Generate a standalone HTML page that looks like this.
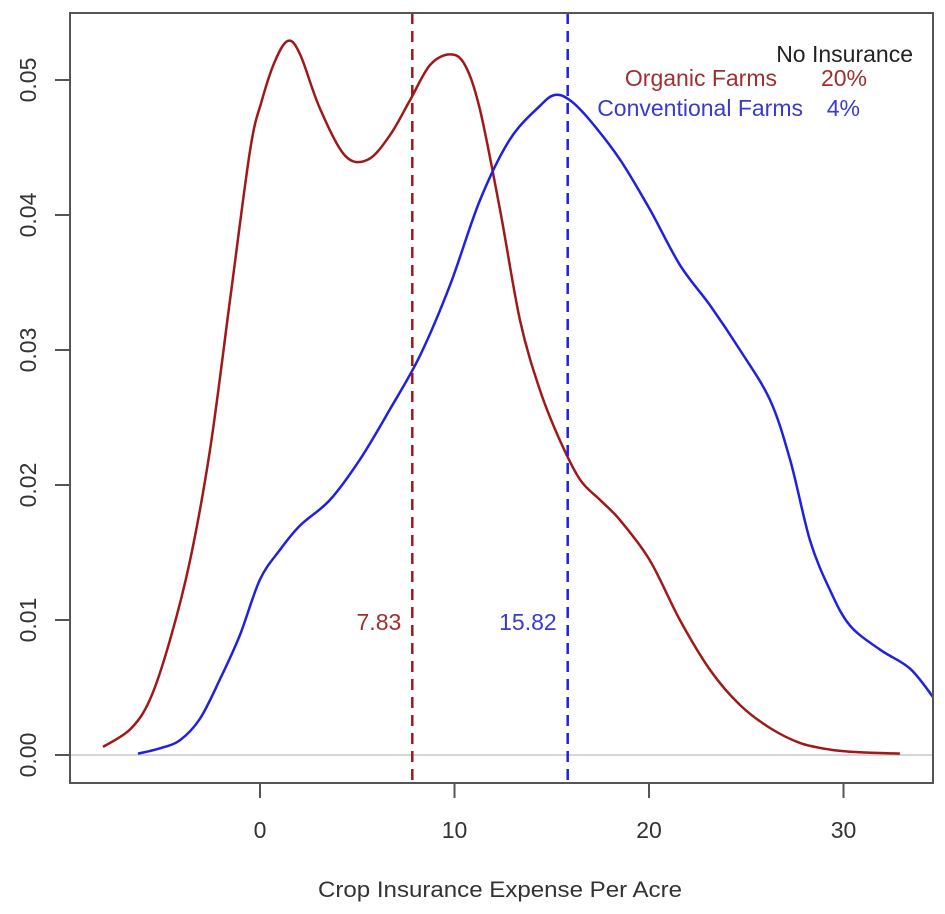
<!DOCTYPE html>
<html><head><meta charset="utf-8"><style>
html,body{margin:0;padding:0;background:#fff;}
svg{display:block;font-family:"Liberation Sans",Arial,sans-serif;}
</style></head><body>
<svg id="chart" width="945" height="914" viewBox="0 0 945 914" xmlns="http://www.w3.org/2000/svg">
<rect x="0" y="0" width="945" height="914" fill="#fff"/>
<g id="plot"></g>
</svg>
<script>
const organicX=[-8.07,-6.68,-5.66,-4.63,-3.60,-2.57,-1.54,-0.51,0.10,0.77,1.44,2.06,3.08,4.37,5.55,6.68,7.71,8.74,9.77,10.54,11.31,12.34,13.37,14.40,15.42,16.45,17.48,18.51,20.05,21.59,23.14,24.68,26.22,27.76,29.31,30.85,32.9];
const organicY=[0.0006,0.0019,0.0041,0.0085,0.0144,0.0226,0.0337,0.0448,0.0485,0.0514,0.0529,0.0519,0.0479,0.0444,0.0441,0.0459,0.0485,0.0511,0.0519,0.0511,0.0478,0.0404,0.0322,0.0270,0.0233,0.0204,0.0189,0.0174,0.0144,0.0100,0.0063,0.0037,0.0020,0.0009,0.0004,0.0002,0.0001];
const convX=[-6.27,-5.14,-4.11,-3.08,-2.06,-1.03,0,1.03,2.06,3.60,5.14,6.68,8.23,9.77,11.31,12.85,14.40,15.17,15.94,16.97,18.51,20.05,21.59,23.14,24.68,26.22,27.25,28.28,29.31,30.33,31.88,33.42,34.65];
const convY=[0.0001,0.0005,0.0011,0.0027,0.0056,0.0089,0.0130,0.0152,0.0170,0.0189,0.0219,0.0256,0.0296,0.0348,0.0411,0.0456,0.0481,0.0489,0.0485,0.0470,0.0441,0.0404,0.0363,0.0333,0.0300,0.0263,0.0219,0.0159,0.0122,0.0096,0.0078,0.0064,0.0042];
const means=[7.83,15.82];
const meanLabels=["7.83","15.82"];
const xTicks=[0,10,20,30];
const yTicks=[0,0.01,0.02,0.03,0.04,0.05];
const yTickLabels=["0.00","0.01","0.02","0.03","0.04","0.05"];

const L=70,R=933,T=13,B=783;
function sx(v){return 260+v*19.45;}
function sy(v){return 755-v*13500;}
const NS="http://www.w3.org/2000/svg";
const g=document.getElementById('plot');
function mk(tag,attrs,name,text){const e=document.createElementNS(NS,tag);for(const k in attrs)e.setAttribute(k,attrs[k]);


if(text!==undefined)e.textContent=text;g.appendChild(e);return e;}

mk('line',{x1:L,x2:R,y1:sy(0),y2:sy(0),stroke:'#c8c8c8','stroke-width':1.5},'zero-line');
function pathOf(xs,ys){
  const p=xs.map((x,i)=>[sx(x),sy(ys[i])]);
  let d='M'+p[0][0].toFixed(1)+','+p[0][1].toFixed(1);
  for(let i=0;i<p.length-1;i++){
    const p0=p[Math.max(0,i-1)],p1=p[i],p2=p[i+1],p3=p[Math.min(p.length-1,i+2)];
    const c1=[p1[0]+(p2[0]-p0[0])/6,p1[1]+(p2[1]-p0[1])/6];
    const c2=[p2[0]-(p3[0]-p1[0])/6,p2[1]-(p3[1]-p1[1])/6];
    d+=' C'+c1.map(v=>v.toFixed(1)).join(',')+' '+c2.map(v=>v.toFixed(1)).join(',')+' '+p2[0].toFixed(1)+','+p2[1].toFixed(1);
  }
  return d;
}
mk('path',{d:pathOf(organicX,organicY),fill:'none',stroke:'#a01818','stroke-width':2.5,'stroke-linejoin':'round'},'organic-density-line');
mk('path',{d:pathOf(convX,convY),fill:'none',stroke:'#2020e0','stroke-width':2.5,'stroke-linejoin':'round'},'conventional-density-line');
const mcol=['#a01818','#2020e0'];
means.forEach((m,i)=>{
  mk('line',{x1:sx(m),x2:sx(m),y1:T,y2:B,stroke:mcol[i],'stroke-width':2.5,'stroke-dasharray':'11,7'},i?'conventional-mean-line':'organic-mean-line');
  mk('text',{x:sx(m)-11,y:630,'text-anchor':'end','font-size':23,fill:i?'#3a3acc':'#a03030'},i?'conventional-mean-label':'organic-mean-label',meanLabels[i]);
});
mk('rect',{x:R+1,y:0,width:20,height:914,fill:'#fff'},'right-margin');
mk('rect',{x:L,y:T,width:R-L,height:B-T,fill:'none',stroke:'#555','stroke-width':2},'plot-frame');
xTicks.forEach(v=>{
  mk('line',{x1:sx(v),x2:sx(v),y1:B,y2:B+15,stroke:'#555','stroke-width':2},'x-tick');
  mk('text',{x:sx(v),y:B+55,'text-anchor':'middle','font-size':23,fill:'#333'},'x-tick-label',String(v));
});
yTicks.forEach((v,i)=>{
  mk('line',{x1:L-15,x2:L,y1:sy(v),y2:sy(v),stroke:'#555','stroke-width':2},'y-tick');
  mk('text',{x:0,y:0,transform:`translate(36,${sy(v)}) rotate(-90)`,'text-anchor':'middle','font-size':23,fill:'#333'},'y-tick-label',yTickLabels[i]);
});
mk('text',{x:500,y:897,'text-anchor':'middle','font-size':22,fill:'#333',textLength:364,lengthAdjust:'spacingAndGlyphs'},'x-axis-title','Crop Insurance Expense Per Acre');
mk('text',{x:913,y:62,'text-anchor':'end','font-size':23,fill:'#222'},'legend-title','No Insurance');
mk('text',{x:777,y:86,'text-anchor':'end','font-size':23,fill:'#a03030'},'legend-organic-label','Organic Farms');
mk('text',{x:867,y:86,'text-anchor':'end','font-size':23,fill:'#a03030'},'legend-organic-value','20%');
mk('text',{x:803,y:116,'text-anchor':'end','font-size':23,fill:'#3a3acc'},'legend-conventional-label','Conventional Farms');
mk('text',{x:860,y:116,'text-anchor':'end','font-size':23,fill:'#3a3acc'},'legend-conventional-value','4%');
</script>
</body></html>
